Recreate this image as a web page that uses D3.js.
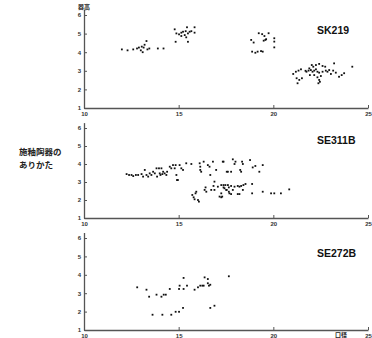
<!DOCTYPE html>
<html>
<head>
<meta charset="utf-8">
<script src="https://cdn.jsdelivr.net/npm/d3@7"></script>
<style>
  body { margin: 0; background: #fff; }
  svg { display: block; }
</style>
</head>
<body>
<figure id="chart" style="margin:0"></figure>
<script>
// panel names, axis ticks
const panelNames = ["SK219", "SE311B", "SE272B"];
const xTicks = [10, 15, 20, 25];
const yTicks = [1, 2, 3, 4, 5, 6];

// [口径, 器高] per feature
const sk219 = [
  [12.0, 4.15], [12.3, 4.1], [12.6, 4.15], [12.8, 4.2], [12.9, 4.25], [13.0, 4.1], [13.05, 4.3],
  [13.1, 4.0], [13.15, 4.25], [13.2, 4.4], [13.3, 4.6], [13.35, 4.15], [13.45, 4.2], [13.9, 4.2], [14.2, 4.2],
  [14.79, 5.23], [14.88, 5.01], [15.02, 4.96], [15.14, 5.05], [15.23, 5.1], [15.32, 4.92], [15.37, 5.13],
  [15.44, 5.34], [15.49, 5.01], [15.58, 5.1], [15.67, 5.13], [15.84, 5.34], [15.84, 5.05], [14.84, 4.56],
  [15.49, 4.56], [15.14, 4.87], [15.4, 4.8],
  [18.83, 4.66], [18.96, 4.52], [19.23, 5.02], [19.41, 4.97], [19.53, 4.87], [19.62, 4.7], [19.49, 4.62],
  [19.75, 5.02], [20.05, 4.75], [20.05, 4.57], [20.05, 4.26], [18.88, 4.03], [19.05, 3.97], [19.17, 4.03],
  [19.35, 4.06], [19.44, 4.03], [19.58, 4.66],
  [21.05, 2.83], [21.19, 2.95], [21.33, 3.01], [21.46, 3.08], [21.23, 2.6], [21.37, 2.51], [21.51, 2.6],
  [21.28, 2.33], [21.75, 2.95], [21.86, 3.01], [21.98, 3.04], [22.07, 2.95], [22.16, 3.01], [22.25, 3.08],
  [22.33, 2.95], [22.42, 2.9], [22.03, 3.31], [22.25, 3.31], [22.42, 3.37], [22.6, 3.26], [22.74, 3.22],
  [22.86, 2.95], [22.95, 3.04], [23.04, 2.83], [23.21, 3.4], [23.3, 2.9], [23.47, 2.68], [23.61, 2.77],
  [23.74, 2.87], [24.17, 3.22], [21.93, 2.77], [22.16, 2.77], [22.33, 2.65], [22.42, 2.51], [22.51, 2.72],
  [22.6, 2.95], [22.38, 2.33], [22.46, 2.41], [22.11, 3.22], [22.77, 3.01], [23.16, 3.01], [21.9, 3.13], [21.7, 3.0]
];
const se311b = [
  [12.25, 3.44], [12.38, 3.39], [12.51, 3.39], [12.6, 3.33], [12.74, 3.39], [12.86, 3.39], [13.04, 3.44],
  [13.12, 3.3], [13.21, 3.67], [13.3, 3.39], [13.39, 3.3], [13.47, 3.48], [13.56, 3.39], [13.65, 3.57],
  [13.74, 3.48], [13.83, 3.76], [13.86, 3.3], [13.96, 3.76], [14.0, 3.48], [14.04, 3.39], [14.09, 3.76],
  [14.14, 3.44], [14.18, 3.57], [14.26, 3.48], [14.35, 3.39], [14.39, 3.57], [14.53, 3.85], [14.61, 3.76],
  [14.7, 3.94], [14.79, 3.76], [14.84, 3.94], [14.88, 3.39], [14.91, 3.11], [14.96, 3.11], [15.05, 3.94],
  [15.14, 3.76], [15.23, 3.67], [15.4, 4.04], [15.67, 4.0], [15.72, 2.28], [15.79, 2.15], [15.84, 2.04],
  [15.89, 2.37], [15.93, 2.46], [16.02, 2.0], [16.07, 1.91], [16.11, 4.04], [16.14, 3.85], [16.14, 3.67],
  [16.19, 3.57], [16.32, 4.13], [16.37, 2.56], [16.42, 2.7], [16.46, 2.46], [16.54, 3.94], [16.63, 3.85],
  [16.67, 3.39], [16.72, 2.56], [16.81, 4.13], [16.84, 2.78], [16.89, 3.02], [16.89, 2.56], [16.98, 3.67],
  [17.07, 2.74], [17.16, 2.19], [17.25, 2.37], [17.3, 2.19], [17.33, 4.13], [17.37, 2.83], [17.42, 2.65],
  [17.51, 2.56], [17.6, 3.57], [17.6, 2.83], [17.65, 2.46],
  [17.37, 4.13], [17.54, 3.57], [17.77, 3.57], [17.86, 4.26], [17.95, 4.0], [18.0, 4.13], [18.25, 3.67],
  [18.3, 3.57], [18.35, 4.13], [18.39, 4.0], [18.77, 4.22], [18.91, 3.81], [19.05, 3.89], [19.26, 3.57],
  [19.44, 3.94], [17.25, 2.83], [17.37, 2.7], [17.47, 2.83], [17.54, 2.56], [17.65, 2.7], [17.77, 2.78],
  [17.86, 2.56], [17.95, 2.74], [18.12, 2.78], [18.21, 2.74], [18.3, 2.78], [18.39, 2.56], [18.42, 2.83],
  [18.53, 2.89], [18.88, 2.89], [17.68, 2.37], [17.77, 2.33], [18.12, 2.33], [18.21, 2.33], [18.88, 2.37],
  [19.44, 2.46], [19.88, 2.37], [20.05, 2.37], [20.4, 2.37], [20.84, 2.59], [17.25, 2.15]
];
const se272b = [
  [12.81, 3.32], [13.3, 3.19], [13.44, 2.81], [13.62, 1.83], [13.83, 2.92], [14.09, 2.81], [14.14, 1.83],
  [14.21, 2.92], [14.32, 2.92], [14.53, 3.23], [14.61, 1.83], [14.84, 1.99], [15.02, 1.99], [15.02, 3.23],
  [15.05, 3.41], [15.23, 2.2], [15.26, 3.83], [15.26, 3.23], [15.44, 3.41], [15.84, 3.19], [16.02, 3.32],
  [16.14, 3.41], [16.25, 3.41], [16.32, 3.41], [16.37, 3.86], [16.54, 3.77], [16.54, 3.54], [16.6, 3.41],
  [16.67, 3.46], [16.67, 2.2], [16.89, 2.32], [17.65, 3.92]
];
const panelData = [sk219, se311b, se272b];

const W = 372, H = 338;
// bottom (value 1) and top (value 6) pixel rows per panel, plus title baselines
const panelBase = [108, 218, 330];
const panelTop = [15, 128, 238];
const titleY = [34, 144, 257];

const svg = d3.select("#chart").append("svg")
  .attr("width", W).attr("height", H)
  .style("font-family", "'Liberation Serif', serif");

const x = d3.scaleLinear().domain([10, 25]).range([84, 368]);

panelNames.forEach((name, i) => {
  const y = d3.scaleLinear().domain([1, 6]).range([panelBase[i], panelTop[i]]);
  const yLine = d3.scaleLinear().domain([1, 6.3]).range([panelBase[i], y(6.3)]);
  const g = svg.append("g");

  const ya = g.append("g")
    .attr("transform", "translate(84,0)")
    .call(d3.axisLeft(yLine).tickValues(yTicks).tickSize(-3).tickSizeOuter(0).tickFormat(d3.format("d")));
  ya.selectAll("text").attr("font-size", 6).attr("font-weight", "bold").attr("fill", "#333");

  const xa = g.append("g")
    .attr("transform", "translate(0," + panelBase[i] + ")")
    .call(d3.axisBottom(x).tickValues(xTicks).tickSize(-3).tickSizeOuter(0).tickPadding(4));
  xa.selectAll("text").attr("font-size", 6).attr("font-weight", "bold").attr("fill", "#333");

  g.selectAll(".domain").attr("stroke", "#555").attr("stroke-width", 1.3);
  g.selectAll(".tick line").attr("stroke", "#555");

  g.append("text")
    .attr("x", 317).attr("y", titleY[i])
    .attr("font-family", "'Liberation Sans', Arial, sans-serif")
    .attr("font-weight", "bold").attr("font-size", 10.5).attr("fill", "#111")
    .text(name);

  g.selectAll("rect.pt")
    .data(panelData[i])
    .enter()
    .append("rect")
    .attr("class", "pt")
    .attr("x", d => x(d[0]) - 0.9)
    .attr("y", d => y(d[1]) - 0.9)
    .attr("width", 1.8)
    .attr("height", 1.8)
    .attr("fill", "#111");
});

// axis captions
svg.append("text").attr("x", 84).attr("y", 9).attr("text-anchor", "middle")
  .attr("font-family", "'Noto Sans CJK JP', sans-serif").attr("font-size", 6).attr("font-weight", "bold")
  .attr("fill", "#222")
  .text("器高");
svg.append("text").attr("x", 341).attr("y", 337).attr("text-anchor", "middle")
  .attr("font-family", "'Noto Sans CJK JP', sans-serif").attr("font-size", 6).attr("font-weight", "bold")
  .attr("fill", "#222")
  .text("口径");

const side = svg.append("text")
  .attr("font-family", "'Noto Sans CJK JP', sans-serif").attr("font-size", 8.5).attr("font-weight", "bold")
  .attr("fill", "#222");
side.append("tspan").attr("x", 19).attr("y", 155).text("施釉陶器の");
side.append("tspan").attr("x", 19).attr("y", 168).text("ありかた");
</script>
</body>
</html>
